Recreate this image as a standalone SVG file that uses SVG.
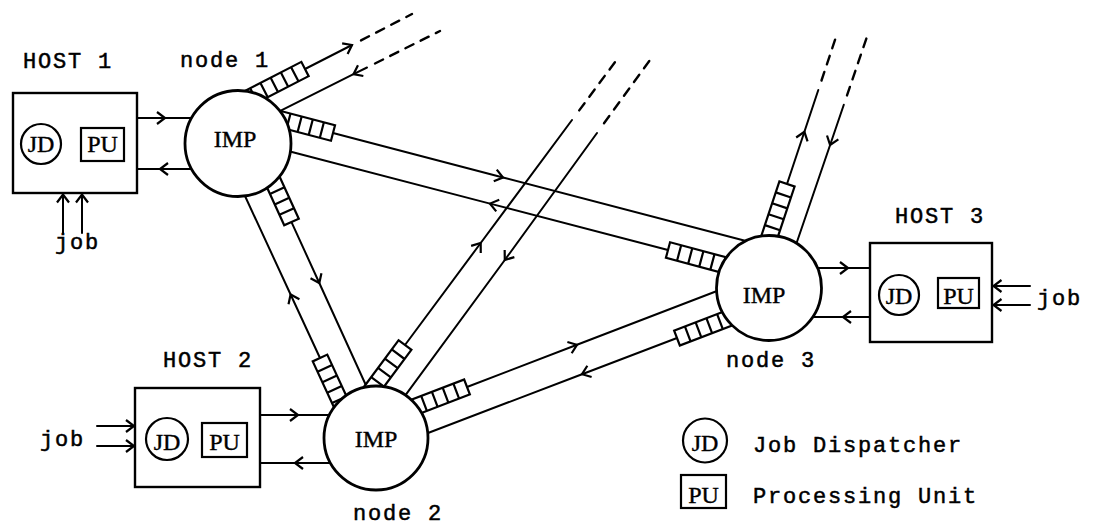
<svg xmlns="http://www.w3.org/2000/svg" xmlns:xlink="http://www.w3.org/1999/xlink" width="1095" height="527" viewBox="0 0 1095 527">
  <defs>
    <style>
      .ln{fill:none;stroke:#000;stroke-width:2;stroke-linecap:round;stroke-linejoin:round}
      .arr{marker-mid:url(#chev)}
      .tip{marker-end:url(#chev)}
      .dash{fill:none;stroke:#000;stroke-width:2.4;stroke-linecap:round;stroke-dasharray:9 8}
      .box{fill:#fff;stroke:#000;stroke-width:2.4}
      .imp{fill:#fff;stroke:#000;stroke-width:2.8}
      .unit{fill:#fff;stroke:#000;stroke-width:2.2}
      .mono{font-family:"Liberation Mono","DejaVu Sans Mono",monospace;font-size:22px;letter-spacing:1.8px;fill:#000;stroke:#000;stroke-width:0.5}
      .serif{font-family:"Liberation Serif","DejaVu Serif",serif;fill:#000;stroke:#000;stroke-width:0.4;text-anchor:middle}
      .lbl{font-size:24px}
      .sm{font-size:24px}
    </style>
    <!-- open chevron arrowhead -->
    <marker id="chev" markerUnits="userSpaceOnUse" viewBox="-11 -8 13 16" markerWidth="13" markerHeight="16" refX="0" refY="0" orient="auto">
      <path d="M-8,-6 L0,0 L-8,6" fill="none" stroke="#000" stroke-width="2.2"/>
    </marker>
    <!-- output buffer queue: outer end at origin, axis along +x toward the IMP -->
    <g id="queue">
      <rect x="0" y="-8" width="64" height="16" fill="#fff" stroke="#000" stroke-width="2.2"/>
      <path d="M11.5,-8v16M23,-8v16M34.5,-8v16M46,-8v16M57.5,-8v16" fill="none" stroke="#000" stroke-width="2.2"/>
    </g>
  </defs>

  <rect width="1095" height="527" fill="#fff"/>

  <g id="connectors">
    <!-- node 1 : outgoing trunk to upper right -->
    <path class="ln tip" d="M305,69 L352,45"/>
    <path class="dash" d="M361,40.4 L412,14"/>
    <path class="ln arr" d="M367,67.5 L353.5,74.2 L279.3,111.3"/>
    <path class="dash" d="M375,63.5 L440,31"/>

    <!-- node 1 <-> node 3 -->
    <path class="ln arr" d="M333,133 L503,177.5 L746,241"/>
    <path class="ln arr" d="M668,250 L490,203.6 L290,151.5"/>

    <!-- node 1 <-> node 2 -->
    <path class="ln arr" d="M290.7,220.3 L319.3,283 L366.5,386.5"/>
    <path class="ln arr" d="M320,358 L290.6,294.5 L245,196"/>

    <!-- node 2 : trunk to upper right -->
    <path class="ln arr" d="M405,345 L480.7,243 L572,120"/>
    <path class="dash" d="M579.2,110.4 L618,58"/>
    <path class="ln arr" d="M597,133 L504.8,260 L405.3,395.3"/>
    <path class="dash" d="M604,123.3 L650,60"/>

    <!-- node 2 <-> node 3 -->
    <path class="ln arr" d="M467,387 L577,344.8 L717,291"/>
    <path class="ln arr" d="M677,338 L582,374.2 L428,433"/>

    <!-- node 3 : trunk upward -->
    <path class="ln arr" d="M787,184 L804.4,131.8 L818.3,90"/>
    <path class="dash" d="M821.5,80.5 L836,37"/>
    <path class="ln arr" d="M843.8,104.8 L830.1,145 L796,244.8"/>
    <path class="dash" d="M847,95.4 L867,36.7"/>

    <!-- host <-> IMP interfaces -->
    <path class="ln arr" d="M137,118 L165,118 L193,118"/>
    <path class="ln arr" d="M192,169 L160,169 L137,169"/>
    <path class="ln arr" d="M260,415 L298,415 L330,415"/>
    <path class="ln arr" d="M331,463 L295,463 L260,463"/>
    <path class="ln arr" d="M816,268 L848,268 L870,268"/>
    <path class="ln arr" d="M870,317 L843,317 L813,317"/>

    <!-- job arrivals -->
    <path class="ln tip" d="M63,233 L63,194.5"/>
    <path class="ln tip" d="M82,233 L82,194.5"/>
    <path class="ln tip" d="M97,426 L134,426"/>
    <path class="ln tip" d="M97,446 L134,446"/>
    <path class="ln tip" d="M1030,286 L993.5,286"/>
    <path class="ln tip" d="M1030,305 L993.5,305"/>
  </g>

  <g id="node1">
    <use xlink:href="#queue" href="#queue" transform="translate(305,69) rotate(152.8)"/>
    <use xlink:href="#queue" href="#queue" transform="translate(333,133) rotate(194.7)"/>
    <use xlink:href="#queue" href="#queue" transform="translate(291.5,222) rotate(-114.5)"/>
    <circle class="imp" cx="238" cy="143.5" r="53"/>
    <text class="serif lbl" x="235" y="146.5">IMP</text>
    <text class="mono" x="180" y="67">node 1</text>
  </g>

  <g id="node2">
    <use xlink:href="#queue" href="#queue" transform="translate(320,358) rotate(65.2)"/>
    <use xlink:href="#queue" href="#queue" transform="translate(405,345) rotate(126.6)"/>
    <use xlink:href="#queue" href="#queue" transform="translate(467,387) rotate(159.1)"/>
    <circle class="imp" cx="376" cy="438" r="52"/>
    <text class="serif lbl" x="376" y="446.5">IMP</text>
    <text class="mono" x="353" y="520">node 2</text>
  </g>

  <g id="node3">
    <use xlink:href="#queue" href="#queue" transform="translate(668,250) rotate(15)"/>
    <use xlink:href="#queue" href="#queue" transform="translate(677,338) rotate(-20.9)"/>
    <use xlink:href="#queue" href="#queue" transform="translate(787,184) rotate(108.4)"/>
    <circle class="imp" cx="769" cy="288" r="52.5"/>
    <text class="serif lbl" x="764" y="303">IMP</text>
    <text class="mono" x="726" y="367">node 3</text>
  </g>

  <g id="host1">
    <rect class="box" x="13" y="93" width="124" height="100"/>
    <circle class="unit" cx="41" cy="144" r="20"/>
    <text class="serif sm" x="41" y="152">JD</text>
    <rect class="unit" x="81" y="128" width="43" height="33"/>
    <text class="serif sm" x="102.5" y="152">PU</text>
    <text class="mono" x="23" y="68">HOST 1</text>
    <text class="mono" x="55" y="249">job</text>
  </g>

  <g id="host2">
    <rect class="box" x="135" y="388" width="125" height="99"/>
    <circle class="unit" cx="167" cy="439" r="21"/>
    <text class="serif sm" x="167" y="450">JD</text>
    <rect class="unit" x="202" y="423" width="45" height="34"/>
    <text class="serif sm" x="224.5" y="450">PU</text>
    <text class="mono" x="163" y="367">HOST 2</text>
    <text class="mono" x="40" y="446">job</text>
  </g>

  <g id="host3">
    <rect class="box" x="870" y="243" width="122" height="99"/>
    <circle class="unit" cx="899" cy="295" r="20"/>
    <text class="serif sm" x="899" y="304">JD</text>
    <rect class="unit" x="938" y="278" width="41" height="30"/>
    <text class="serif sm" x="958.5" y="304">PU</text>
    <text class="mono" x="895" y="223">HOST 3</text>
    <text class="mono" x="1037" y="305">job</text>
  </g>

  <g id="legend">
    <circle class="unit" cx="705" cy="440.5" r="22"/>
    <text class="serif sm" x="705" y="451">JD</text>
    <text class="mono" x="753" y="452">Job Dispatcher</text>
    <rect class="unit" x="681" y="475" width="45" height="33"/>
    <text class="serif sm" x="703.5" y="503">PU</text>
    <text class="mono" x="753" y="503">Processing Unit</text>
  </g>
</svg>
